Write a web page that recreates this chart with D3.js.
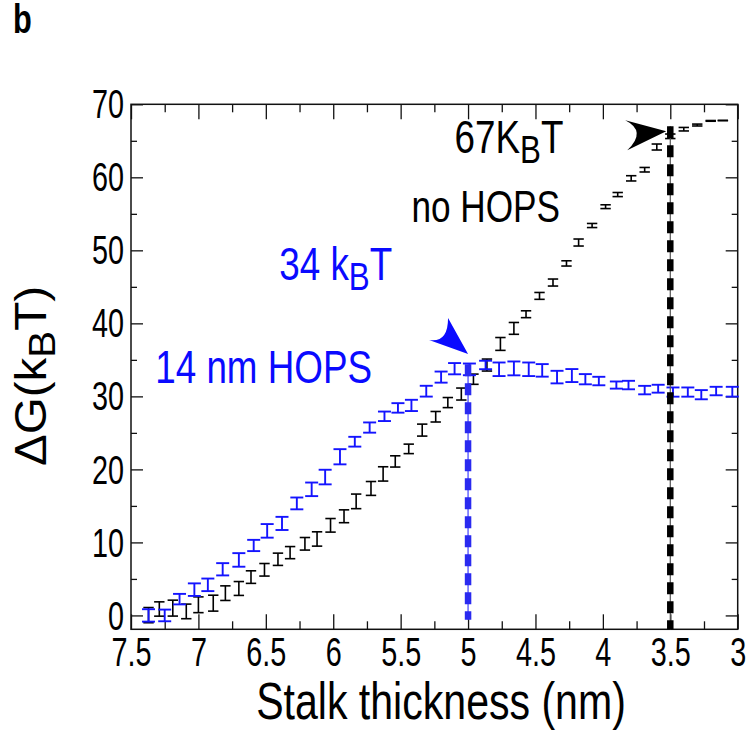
<!DOCTYPE html>
<html lang="en">
<head>
<meta charset="utf-8">
<title>Stalk thickness</title>
<script src="https://cdn.jsdelivr.net/npm/d3@7"></script>
<style>
  body { margin: 0; background: #fff; }
  text { font-family: "Liberation Sans", Arial, sans-serif; }
</style>
</head>
<body>
<svg id="chart" width="751" height="730"></svg>
<script>
// no HOPS (black)
const thickBlack = [7.37,7.29,7.19,7.09,7.00,6.89,6.80,6.70,6.61,6.51,6.41,6.32,6.21,6.12,6.02,5.92,5.83,5.72,5.63,5.54,5.44,5.34,5.24,5.15,5.05,4.96,4.86,4.76,4.66,4.57,4.47,4.37,4.27,4.18,4.08,3.98,3.89,3.79,3.69,3.60,3.50,3.40,3.30,3.20,3.11];
const dGBlack = [0.04,0.88,1.0,0.55,1.46,1.68,3.05,3.69,5.25,6.25,7.69,8.6,9.81,10.47,12.34,13.58,15.62,17.39,19.38,21.09,22.81,25.38,27.21,29.15,30.32,32.35,34.29,37.18,39.31,41.25,43.76,45.59,48.21,51.07,53.4,55.98,57.64,59.86,61.04,64.15,65.62,66.59,67.16,67.73,67.78];
const errBlack = [1.04,0.98,1.09,1.0,1.08,1.09,1.0,0.95,0.86,0.86,0.84,0.83,0.86,0.98,0.93,0.88,1.0,0.95,0.98,0.77,0.65,0.82,0.72,0.69,0.82,0.7,0.82,0.88,0.81,0.47,0.47,0.48,0.36,0.48,0.28,0.26,0.28,0.36,0.31,0.41,0.31,0.24,0.13,0.05,0.02];

// 14 nm HOPS (blue)
const thickBlue = [7.37,7.25,7.14,7.03,6.93,6.82,6.70,6.59,6.49,6.38,6.27,6.16,6.06,5.95,5.84,5.73,5.62,5.52,5.42,5.31,5.20,5.10,4.99,4.87,4.77,4.66,4.55,4.45,4.34,4.23,4.13,4.03,3.90,3.81,3.69,3.59,3.48,3.37,3.27,3.16,3.04];
const dGBlue = [0.0,0.0,2.23,3.53,4.19,6.32,7.6,9.58,11.58,12.6,15.34,17.27,18.95,21.73,23.79,25.73,27.27,28.42,28.76,30.71,32.64,33.79,33.7,34.3,33.71,33.83,33.71,33.56,32.64,32.85,32.35,32.1,31.55,31.55,30.86,31.05,30.59,30.59,30.23,30.73,30.64];
const errBlue = [0.85,0.8,0.72,0.86,0.86,0.84,0.93,0.77,0.93,0.9,0.81,0.93,1.0,1.04,0.67,0.7,0.65,0.65,0.77,0.74,0.76,0.77,0.8,0.58,0.93,0.95,0.93,0.86,0.86,0.89,0.7,0.58,0.49,0.58,0.58,0.54,0.63,0.63,0.63,0.58,0.67];

const xMajor = [7.5,7,6.5,6,5.5,5,4.5,4,3.5,3];
const xMinor = [7.25,6.75,6.25,5.75,5.25,4.75,4.25,3.75,3.25];
const yMajor = [0,10,20,30,40,50,60,70];
const yMinor = [5,15,25,35,45,55,65];

const svg = d3.select("#chart");
const m = {l: 131, r: 737.7, t: 104.3, b: 629.3};

const x = d3.scaleLinear().domain([7.5, 3]).range([m.l, m.r]);
const y = d3.scaleLinear().domain([-1.9, 70]).range([m.b, m.t]);

function ticks(gen, vals, len, pos, labels) {
  const g = svg.append("g").attr("transform", pos)
    .call(gen.tickValues(vals).tickSizeInner(-len).tickSizeOuter(0).tickPadding(0)
      .tickFormat(labels ? (d => d) : ""));
  g.select(".domain").remove();
  g.selectAll("line").attr("stroke", "#111").attr("stroke-width", 1.3);
  g.attr("font-family", null).attr("font-size", 40);
  return g;
}

// ticks on all four sides, pointing inwards
const bx = ticks(d3.axisBottom(x), xMajor, 15, `translate(0,${m.b})`, true);
bx.selectAll("text").attr("y", 37).attr("dy", null).attr("fill", "#000")
  .attr("transform", "scale(0.72,1)");
ticks(d3.axisBottom(x), xMinor, 8, `translate(0,${m.b})`, false);
ticks(d3.axisTop(x), xMajor, 15, `translate(0,${m.t})`, false);
ticks(d3.axisTop(x), xMinor, 8, `translate(0,${m.t})`, false);

const ly = ticks(d3.axisLeft(y), yMajor, 12, `translate(${m.l},0)`, true);
ly.selectAll("text").attr("x", -7 / 0.72).attr("dy", "0.34em").attr("fill", "#000")
  .attr("transform", "scale(0.72,1)");
ticks(d3.axisLeft(y), yMinor, 6, `translate(${m.l},0)`, false);
ticks(d3.axisRight(y), yMajor, 12, `translate(${m.r},0)`, false);
ticks(d3.axisRight(y), yMinor, 6, `translate(${m.r},0)`, false);

svg.append("rect")
  .attr("x", m.l).attr("y", m.t)
  .attr("width", m.r - m.l).attr("height", m.b - m.t)
  .attr("fill", "none").attr("stroke", "#111").attr("stroke-width", 1.5);

// error bars
function errorBars(xs, vs, es, color, cap, w) {
  const pts = xs.map((d, i) => ({x: d, v: vs[i], e: es[i]}));
  const g = svg.append("g").attr("stroke", color).attr("stroke-width", w).attr("fill", "none");
  const bar = g.selectAll("g").data(pts).join("g");
  bar.append("line")
    .attr("x1", d => x(d.x)).attr("x2", d => x(d.x))
    .attr("y1", d => y(d.v - d.e)).attr("y2", d => y(d.v + d.e));
  bar.append("line")
    .attr("x1", d => x(d.x) - cap).attr("x2", d => x(d.x) + cap)
    .attr("y1", d => y(d.v + d.e)).attr("y2", d => y(d.v + d.e));
  bar.append("line")
    .attr("x1", d => x(d.x) - cap).attr("x2", d => x(d.x) + cap)
    .attr("y1", d => y(d.v - d.e)).attr("y2", d => y(d.v - d.e));
}
errorBars(thickBlack, dGBlack, errBlack, "#000", 5.2, 1.6);
errorBars(thickBlue, dGBlue, errBlue, "#1414ff", 6.5, 1.9);

// dashed markers
function marker(xv, y0, y1, thin, thick) {
  svg.append("line").attr("x1", x(xv)).attr("x2", x(xv)).attr("y1", y(y0)).attr("y2", y(y1))
    .attr("stroke", thin).attr("stroke-width", 1.2);
  svg.append("line").attr("x1", x(xv)).attr("x2", x(xv)).attr("y1", y(y0)).attr("y2", y(y1))
    .attr("stroke", thick).attr("stroke-width", 6.5).attr("stroke-dasharray", "12,7");
}
marker(5.0, 34.4, -0.6, "#4040ff", "#2a2af0");
marker(3.5, 67, -1.9, "#555", "#000");

// arrowheads
svg.append("path")
  .attr("transform", `translate(${x(3.53)},${y(66.3)})`)
  .attr("d", "M0,0 L-41,-11 Q-19,0 -39,19 Z").attr("fill", "#000");
svg.append("path")
  .attr("transform", `translate(${x(5.0)},${y(35.8)})`)
  .attr("d", "M0,0 L-20,-36 Q-20,-11 -39,-14 Z").attr("fill", "#0a0aff");

function addText(x0, y0, parts, o) {
  const sx = o.sx || 1, rot = o.rot || 0, shift = o.shift || 0;
  const t = svg.append("text")
    .attr("transform", `translate(${x0},${y0}) rotate(${rot}) scale(${sx},1)`)
    .attr("font-size", o.size).attr("text-anchor", o.anchor || "start")
    .attr("fill", o.fill || "#000").attr("font-weight", o.weight || "normal");
  let down = false;
  parts.forEach(p => {
    const s = t.append("tspan");
    if (typeof p === "string") {
      if (down) { s.attr("dy", -shift); down = false; }
      s.text(p);
    } else {
      s.attr("font-size", o.size * 0.85).attr("dy", shift).text(p.sub);
      down = true;
    }
  });
  return t;
}

addText(x(5.1), y(63.3), ["67K", {sub: "B"}, "T"], {size: 46, sx: 0.8, shift: 10});
addText(x(5.42), y(53.9), ["no HOPS"], {size: 44, sx: 0.8});
addText(x(6.4), y(45.9), ["34 k", {sub: "B"}, "T"], {size: 46, sx: 0.8, shift: 10, fill: "#0a0aff"});
addText(x(7.32), y(31.8), ["14 nm HOPS"], {size: 46, sx: 0.8, fill: "#0a0aff"});

addText(441, 719, ["Stalk thickness (nm)"], {size: 52, sx: 0.79, anchor: "middle"});
addText(46, 376, ["\u0394G(k", {sub: "B"}, "T)"], {size: 44, rot: -90, sx: 1.08, anchor: "middle", shift: 9});
addText(13, 33, ["b"], {size: 41, sx: 0.75, weight: "bold"});
</script>
</body>
</html>
